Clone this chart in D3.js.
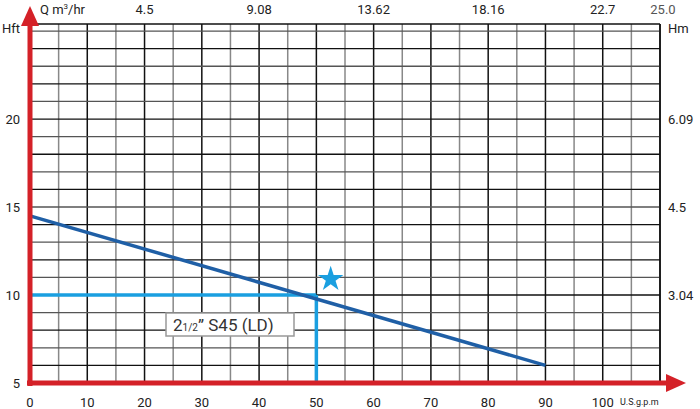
<!DOCTYPE html>
<html><head><meta charset="UTF-8">
<script src="https://d3js.org/d3.v7.min.js"></script>
<style>body{margin:0;background:#fff;font-family:Roboto,sans-serif}</style>
</head><body>
<div id="chart"></div>
<script>
// data
const gpmTicks = [0,10,20,30,40,50,60,70,80,90,100];
const m3Ticks = [20,40,60,80,100,110];
const m3Labels = ["4.5","9.08","13.62","18.16","22.7","25.0"];
const ftTicks = [5,10,15,20];
const hmTicks = [10,15,20];
const hmLabels = ["3.04","4.5","6.09"];
const curveQ = [0,90];
const curveH = [14.5,6.0];
const dutyQ = 50, dutyH = 10;
const starPt = [52.5,10.9];

const svg = d3.select("#chart").append("svg").attr("width",700).attr("height",409);
const x = d3.scaleLinear().domain([0,110]).range([30,660]);
const y = d3.scaleLinear().domain([5,25.4]).range([383,24]);

// grid
const g = svg.append("g");
d3.range(5,111,5).forEach(v=>{
  g.append("line").attr("x1",x(v)).attr("x2",x(v)).attr("y1",y(25.4)).attr("y2",y(5))
   .attr("stroke", v%10==0 ? "#111" : "#888").attr("stroke-width",1.5);
});
d3.range(6,26,1).forEach(v=>{
  g.append("line").attr("x1",x(0)).attr("x2",x(110)).attr("y1",y(v)).attr("y2",y(v))
   .attr("stroke", v%2==0 ? "#111":"#555").attr("stroke-width",1.3);
});
g.append("line").attr("x1",x(0)).attr("x2",x(110)).attr("y1",y(25.4)).attr("y2",y(25.4)).attr("stroke","#111").attr("stroke-width",1.5);
g.append("line").attr("x1",x(110)).attr("x2",x(110)).attr("y1",y(25.4)).attr("y2",y(5)).attr("stroke","#111").attr("stroke-width",1.5);

// duty lines
svg.append("line").attr("x1",x(0)).attr("x2",x(dutyQ)).attr("y1",y(dutyH)).attr("y2",y(dutyH)).attr("stroke","#1a9fe0").attr("stroke-width",3.5);
svg.append("line").attr("x1",x(dutyQ)).attr("x2",x(dutyQ)).attr("y1",y(dutyH)).attr("y2",y(5)).attr("stroke","#1a9fe0").attr("stroke-width",3.5);

// curve
svg.append("path").datum(curveQ.map((q,i)=>[q,curveH[i]]))
  .attr("d",d3.line().x(d=>x(d[0])).y(d=>y(d[1])))
  .attr("stroke","#1f5fa6").attr("stroke-width",3.5).attr("fill","none");

// star
svg.append("path").attr("d",d3.symbol(d3.symbolStar,200)()).attr("fill","#1a9fe0")
  .attr("transform",`translate(${x(starPt[0])},${y(starPt[1])})`);

// axes (red)
svg.append("line").attr("x1",x(0)).attr("x2",x(0)).attr("y1",y(5)+3).attr("y2",22).attr("stroke","#d42128").attr("stroke-width",5);
svg.append("path").attr("d",`M${x(0)-9},26 L${x(0)},6 L${x(0)+9},26 Z`).attr("fill","#d42128");
svg.append("line").attr("x1",x(0)-3).attr("x2",670).attr("y1",y(5)).attr("y2",y(5)).attr("stroke","#d42128").attr("stroke-width",5);
svg.append("path").attr("d",`M666,${y(5)-9} L686,${y(5)} L666,${y(5)+9} Z`).attr("fill","#d42128");

// labels
const t = (xx,yy,s,anchor,size,fill)=>svg.append("text").attr("x",xx).attr("y",yy).attr("text-anchor",anchor||"middle")
  .attr("font-size",size||13).attr("fill",fill||"#222").text(s);
gpmTicks.forEach(v=>t(x(v),y(5)+24,v));
t(620,y(5)+22,"U.S.g.p.m","start",9);
ftTicks.forEach(v=>t(20,y(v)+5,v,"end"));
t(2,33,"Hft","start");
hmTicks.forEach((v,i)=>t(668,y(v)+5,hmLabels[i],"start"));
t(668,33,"Hm","start");
m3Ticks.forEach((v,i)=>t(x(v)+(v==110?3:0),14,m3Labels[i],"middle",13,v==110?"#555":"#222"));
const ql = t(40,14,"Q m","start");
ql.append("tspan").attr("font-size",8).attr("dy",-5).text("3");
ql.append("tspan").attr("dy",5).text("/hr");

// model box
svg.append("rect").attr("x",166).attr("y",313).attr("width",128).attr("height",23).attr("fill","#fff").attr("stroke","#999").attr("stroke-width",1.5);
const lab = svg.append("text").attr("x",173).attr("y",331).attr("font-size",17).attr("fill","#333");
lab.append("tspan").text("2");
lab.append("tspan").attr("font-size",10).text("1/2");
lab.append("tspan").text("\u201D S45 (LD)");
</script>
</body></html>
